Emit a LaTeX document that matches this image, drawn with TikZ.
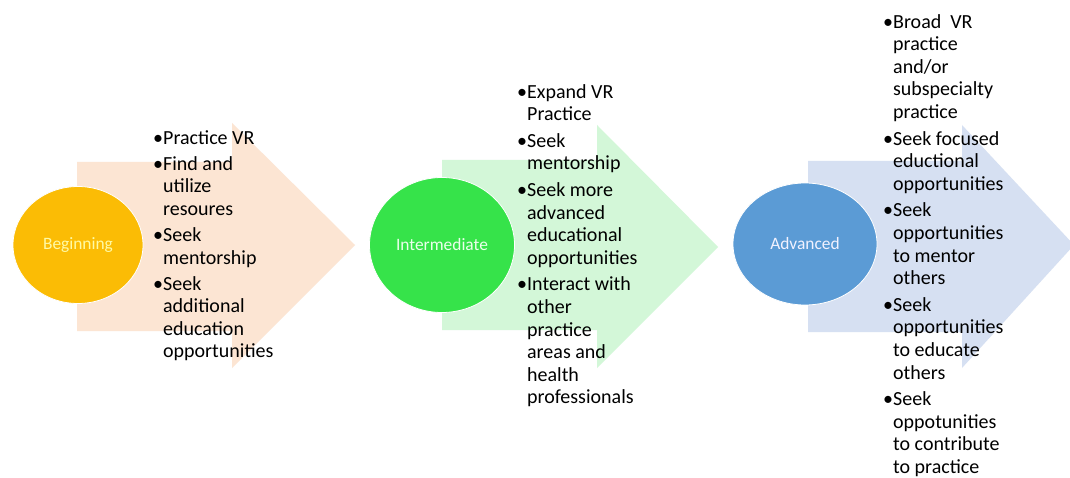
\documentclass[tikz,border=0pt]{standalone}
\usepackage{fontspec}
\setmainfont{Carlito}
\usetikzlibrary{shapes.geometric}

\definecolor{gold}{HTML}{FBBC05}
\definecolor{peach}{HTML}{FCE5D3}
\definecolor{lime}{HTML}{36E34A}
\definecolor{mint}{HTML}{D3F7D8}
\definecolor{steel}{HTML}{5B9BD5}
\definecolor{sky}{HTML}{D6E0F2}

\tikzstyle{stage}=[ellipse, inner sep=0pt, draw=white, line width=0.8pt, font=\fontsize{17.4}{20}\selectfont]
\tikzstyle{steps}=[anchor=north west, inner sep=0pt, text=black, font=\fontsize{20}{22.6}\selectfont]
\newcommand{\itm}{\textbullet}

\begin{document}
\begin{tikzpicture}[x=1pt, y=-1pt]
\useasboundingbox (0,0) rectangle (1070,478);
\clip (0,0) rectangle (1070,478);
\fill[white] (0,0) rectangle (1070,478);

% big arrows
\fill[peach] (77,162) -- (232,162) -- (232,123) -- (355,245) -- (232,368) -- (232,331) -- (77,331) -- cycle;
\fill[mint] (442,160) -- (597,160) -- (597,125) -- (718,247) -- (597,368) -- (597,330) -- (442,330) -- cycle;
\fill[sky] (808,161) -- (962,161) -- (962,125) -- (1074,245) -- (962,368) -- (962,332) -- (808,332) -- cycle;

% stages
\node[stage, fill=gold, text=yellow!35, minimum width=130pt, minimum height=117pt] (beginning) at (78,245) {Beginning};
\node[stage, fill=lime, text=green!8, minimum width=145pt, minimum height=135pt] (intermediate) at (442,245) {Intermediate};
\node[stage, fill=steel, text=blue!5, minimum width=144pt, minimum height=122pt] (advanced) at (805,244) {Advanced};

% lists
\node[steps] (beginlist) at (153,128) {%
  \begin{tabular}{@{}l@{}l@{}}
  \itm & Practice VR\\[3.5pt]
  \itm & Find and\\
       & utilize\\
       & resoures\\[3.5pt]
  \itm & Seek\\
       & mentorship\\[3.5pt]
  \itm & Seek\\
       & additional\\
       & education\\
       & opportunities
  \end{tabular}};
\node[steps] (interlist) at (517,82) {%
  \begin{tabular}{@{}l@{}l@{}}
  \itm & Expand VR\\
       & Practice\\[4pt]
  \itm & Seek\\
       & mentorship\\[4pt]
  \itm & Seek more\\
       & advanced\\
       & educational\\
       & opportunities\\[4pt]
  \itm & Interact with\\
       & other\\
       & practice\\
       & areas and\\
       & health\\
       & professionals
  \end{tabular}};
\node[steps] (advlist) at (883,12) {%
  \begin{tabular}{@{}l@{}l@{}}
  \itm & Broad\ \ VR\\
       & practice\\
       & and/or\\
       & subspecialty\\
       & practice\\[4pt]
  \itm & Seek focused\\
       & eductional\\
       & opportunities\\[4pt]
  \itm & Seek\\
       & opportunities\\
       & to mentor\\
       & others\\[4pt]
  \itm & Seek\\
       & opportunities\\
       & to educate\\
       & others\\[4pt]
  \itm & Seek\\
       & oppotunities\\
       & to contribute\\
       & to practice
  \end{tabular}};
\end{tikzpicture}
\end{document}
